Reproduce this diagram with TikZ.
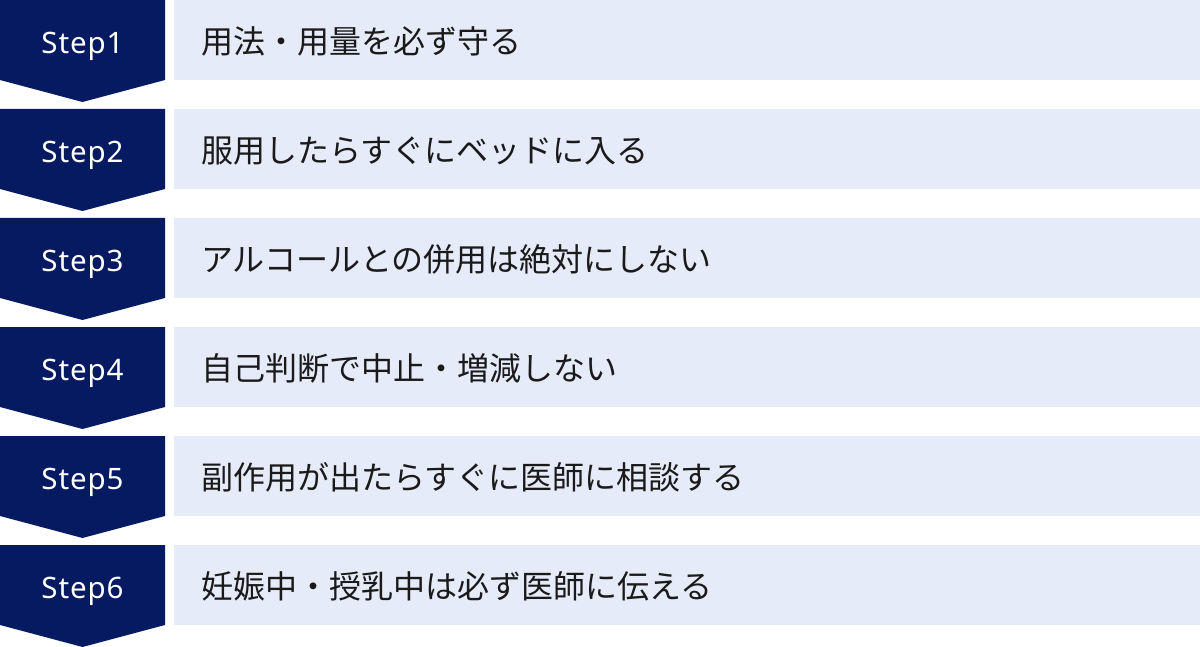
\documentclass[tikz,border=0pt]{standalone}
\usepackage{fontspec}
\setmainfont{Noto Sans CJK JP}
\newfontfamily\latinsans[LetterSpace=3]{Noto Sans}
\definecolor{navy}{HTML}{061A62}
\definecolor{pale}{HTML}{E5EBF8}
\definecolor{ink}{HTML}{1A1A1A}
\tikzset{
  stepshape/.style={fill=navy,draw=none},
  barbox/.style={fill=pale,draw=none,minimum width=1026bp,minimum height=80bp,inner sep=0pt,anchor=north west},
  steplabel/.style={text=white,font=\latinsans\fontsize{29.5bp}{32bp}\selectfont,anchor=base,inner sep=0pt},
  itemlabel/.style={text=ink,font=\fontsize{32bp}{34bp}\selectfont,anchor=west,inner sep=0pt},
}
\begin{document}
\begin{tikzpicture}[x=1bp,y=-1bp]
\useasboundingbox (0,0) rectangle (1200,647);
\foreach \i/\txt in {0/用法・用量を必ず守る,1/服用したらすぐにベッドに入る,2/アルコールとの併用は絶対にしない,3/自己判断で中止・増減しない,4/副作用が出たらすぐに医師に相談する,5/妊娠中・授乳中は必ず医師に伝える}{
  \pgfmathsetmacro{\t}{109*\i}
  \pgfmathtruncatemacro{\n}{\i+1}
  \fill[stepshape] (0,\t) -- (165,\t) -- (165,\t+80) -- (82.5,\t+102) -- (0,\t+80) -- cycle;
  \node[barbox] (bar\n) at (174,\t) {};
  \node[steplabel] (step\n) at (82.5,\t+53.3) {Step\n};
  \node[itemlabel] (item\n) at (201,\t+41.5) {\txt};
}
\end{tikzpicture}
\end{document}
